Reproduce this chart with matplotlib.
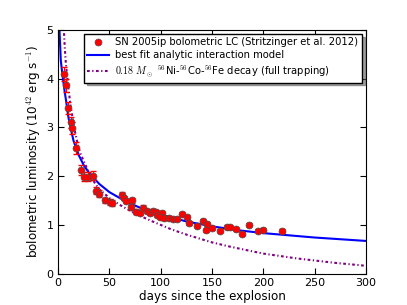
import matplotlib
matplotlib.use("Agg")
import matplotlib.pyplot as plt
import numpy as np

# SN 2005ip bolometric light curve
days = [6.0, 7.4, 10.0, 12.3, 13.9, 17.3, 22.3, 25.4, 29.5, 33.9, 36.8, 39.7,
        45.2, 50.4, 52.1, 62.0, 64.4, 66.1, 71.6, 70.5, 75.7, 79.7, 83.0, 86.8,
        89.5, 92.7, 95.6, 96.6, 101.0, 99.5, 102.8, 108.3, 112.2, 115.5, 120.8,
        125.4, 127.1, 135.0, 141.5, 145.4, 144.0, 149.7, 157.8, 164.8, 167.5,
        173.2, 179.6, 185.6, 194.6, 199.5, 218.0]
lum = [4.10, 3.86, 3.40, 3.10, 2.98, 2.57, 2.13, 1.99, 1.99, 2.01, 1.70, 1.64,
       1.50, 1.47, 1.44, 1.61, 1.55, 1.49, 1.50, 1.36, 1.27, 1.25, 1.35, 1.28,
       1.25, 1.28, 1.27, 1.21, 1.25, 1.16, 1.14, 1.15, 1.13, 1.13, 1.22,
       1.17, 1.04, 0.98, 1.08, 1.02, 0.89, 0.93, 0.88, 0.96, 0.95,
       0.91, 0.82, 1.00, 0.88, 0.90, 0.88]
lum_err = [0.14, 0.14, 0.13, 0.12, 0.12, 0.12, 0.10, 0.09, 0.09, 0.09, 0.07, 0.07,
           0.06, 0.06, 0.06, 0.06, 0.05, 0.05, 0.05, 0.05, 0.05, 0.05, 0.05, 0.04,
           0.04, 0.04, 0.04, 0.04, 0.04, 0.04, 0.04, 0.04, 0.04, 0.04, 0.04,
           0.04, 0.04, 0.03, 0.03, 0.03, 0.03, 0.03, 0.03, 0.03, 0.03,
           0.03, 0.03, 0.03, 0.03, 0.03, 0.03]

# best fit analytic interaction model
model_days = [0.8, 2.5, 4, 6, 8, 10, 12, 15, 20, 25, 30, 40, 50, 60, 70, 80,
              90, 100, 125, 150, 175, 200, 250, 300]
model_lum = [5.2, 4.38, 4.1, 3.78, 3.5, 3.2, 3.0, 2.72, 2.43, 2.22, 2.07, 1.84,
             1.67, 1.55, 1.44, 1.35, 1.27, 1.21, 1.07, 0.97, 0.89, 0.83, 0.74, 0.67]

# 0.18 Msun 56Ni decay, full trapping
ni_days = [5.0, 5.5, 6.5, 7.5, 9, 10, 12, 14, 16, 18, 21, 25, 30, 35, 40, 50,
           60, 75, 93, 110, 125, 150, 168, 200, 233, 270, 300]
ni_lum = [5.3, 5.0, 4.6, 4.3, 4.0, 3.8, 3.45, 3.2, 2.95, 2.75, 2.5, 2.3, 2.07,
          1.88, 1.73, 1.55, 1.41, 1.23, 1.06, 0.91, 0.80, 0.64, 0.55, 0.41,
          0.31, 0.22, 0.16]

plt.rcParams['mathtext.fontset'] = 'cm'
plt.rcParams['font.size'] = 8

fig = plt.figure(figsize=(4.07, 3.05), dpi=100)
ax = fig.add_axes([0.143, 0.103, 0.756, 0.799])

ax.errorbar(days, lum, yerr=lum_err, fmt='none', ecolor='red',
            elinewidth=0.8, capsize=2, zorder=3)
pts, = ax.plot(days, lum, 'o', color='red', mec='0.3', mew=0.5, ms=5, zorder=4,
               label='SN 2005ip bolometric LC (Stritzinger et al. 2012)')
fit, = ax.plot(model_days, model_lum, color='blue', lw=1.5,
               label='best fit analytic interaction model')
ni, = ax.plot(ni_days, ni_lum, color='purple', lw=1.5, dashes=(1.3, 1.2, 0.6, 1.2),
              label=r'$0.18\ M_\odot$ $^{56}$Ni-$^{56}$Co-$^{56}$Fe decay (full trapping)')

ax.set_xlim(0, 300)
ax.set_ylim(0, 5)
ax.set_xticks(np.arange(0, 301, 50))
ax.set_yticks(np.arange(0, 6, 1))
ax.tick_params(direction='in', top=True, right=True, length=4, labelsize=8)
ax.set_xlabel('days since the explosion', fontsize=8.6, labelpad=1)
ax.set_ylabel(r'bolometric luminosity (10$^{42}$ erg s$^{-1}$)', fontsize=8.6, labelpad=2)

ax.legend(handles=[pts, fit, ni], loc='upper right', fontsize=7.2, numpoints=1,
          shadow=True, fancybox=False, edgecolor='black', framealpha=1,
          handlelength=2.2, borderpad=0.35, labelspacing=0.3, handletextpad=0.6,
          borderaxespad=0.4)

fig.savefig('out.png', dpi=100)
